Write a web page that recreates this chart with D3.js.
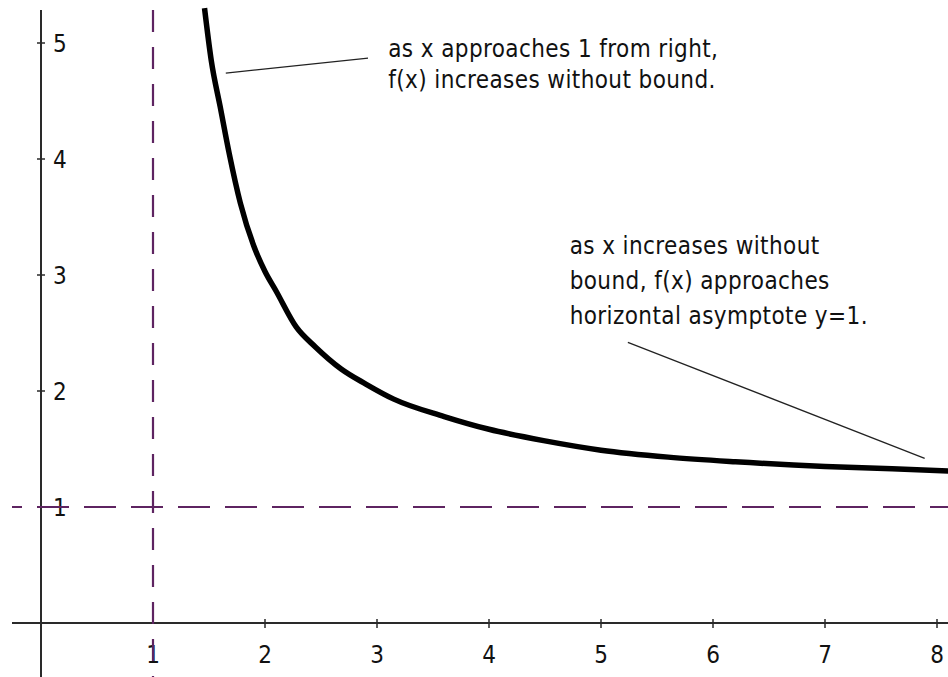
<!DOCTYPE html>
<html>
<head>
<meta charset="utf-8">
<script src="https://cdn.jsdelivr.net/npm/d3@7"></script>
<style>
  html, body { margin: 0; padding: 0; background: #fff; }
  svg { display: block; }
  text { font-family: "DejaVu Sans Condensed", "DejaVu Sans", sans-serif; fill: #111; }
</style>
</head>
<body>
<svg id="plot" width="948" height="677"></svg>
<script>
// points (x, f(x))
const curveX = [1.46, 1.52, 1.60, 1.68, 1.78, 1.90, 2.00, 2.10, 2.28, 2.45, 2.68, 2.90, 3.15, 3.60, 4.00, 4.50, 5.00, 5.60, 6.20, 7.00, 7.60, 8.10];
const curveY = [5.30, 4.85, 4.45, 4.05, 3.62, 3.25, 3.03, 2.86, 2.55, 2.38, 2.19, 2.06, 1.93, 1.78, 1.67, 1.57, 1.49, 1.43, 1.39, 1.35, 1.33, 1.31];

const xTicks = [2, 3, 4, 5, 6, 7, 8];
const yTicks = [2, 3, 4, 5];
const asymX = 1, asymY = 1;

const notes = [
  { lines: ["as x approaches 1 from right,", "f(x) increases without bound."], at: [3.10, 4.88], dy: 31, from: [1.65, 4.74], to: [2.92, 4.87] },
  { lines: ["as x increases without", "bound, f(x) approaches", "horizontal asymptote y=1."], at: [4.72, 3.18], dy: 35, from: [5.24, 2.42], to: [7.89, 1.42] }
];

const svg = d3.select("#plot");
const width = +svg.attr("width");
const height = +svg.attr("height");

const x = d3.scaleLinear().domain([0, 8]).range([41, 937]);
const y = d3.scaleLinear().domain([0, 5]).range([623, 43]);

svg.append("rect").attr("width", width).attr("height", height).attr("fill", "#fff");

const axisCol = "#2a2a2a";
const dashCol = "#5e2461";

// axes
svg.append("line").attr("x1", 12).attr("x2", width).attr("y1", y(0)).attr("y2", y(0))
  .attr("stroke", axisCol).attr("stroke-width", 2);
svg.append("line").attr("x1", x(0)).attr("x2", x(0)).attr("y1", 10).attr("y2", height)
  .attr("stroke", axisCol).attr("stroke-width", 2);

// x ticks + labels
const gx = svg.append("g");
gx.selectAll("line").data(xTicks).join("line")
  .attr("x1", d => x(d)).attr("x2", d => x(d))
  .attr("y1", y(0) - 4).attr("y2", y(0) + 5)
  .attr("stroke", axisCol).attr("stroke-width", 1.5);
gx.selectAll("text").data([asymX, ...xTicks]).join("text")
  .attr("x", d => x(d)).attr("y", 663)
  .attr("text-anchor", "middle").attr("font-size", 24)
  .text(d => d);

// y ticks + labels
const gy = svg.append("g");
gy.selectAll("line").data(yTicks).join("line")
  .attr("x1", x(0) - 4).attr("x2", x(0) + 4)
  .attr("y1", d => y(d)).attr("y2", d => y(d))
  .attr("stroke", axisCol).attr("stroke-width", 1.5);
gy.selectAll("text").data([asymY, ...yTicks]).join("text")
  .attr("x", 53).attr("y", d => y(d) + 9)
  .attr("font-size", 24)
  .text(d => d);

// asymptotes
svg.append("line").attr("x1", 12).attr("x2", width).attr("y1", y(asymY)).attr("y2", y(asymY))
  .attr("stroke", dashCol).attr("stroke-width", 2.2)
  .attr("stroke-dasharray", "32,15").attr("stroke-dashoffset", 22);
svg.append("line").attr("x1", x(asymX)).attr("x2", x(asymX)).attr("y1", 10).attr("y2", height)
  .attr("stroke", dashCol).attr("stroke-width", 2.2)
  .attr("stroke-dasharray", "22,15");

// curve
const pts = curveX.map((v, i) => [v, curveY[i]]);
svg.append("path").datum(pts)
  .attr("d", d3.line().x(d => x(d[0])).y(d => y(d[1])).curve(d3.curveMonotoneX))
  .attr("fill", "none").attr("stroke", "#000").attr("stroke-width", 5.5)
  .attr("stroke-linejoin", "round");

// annotations
notes.forEach(n => {
  svg.append("line")
    .attr("x1", x(n.from[0])).attr("y1", y(n.from[1]))
    .attr("x2", x(n.to[0])).attr("y2", y(n.to[1]))
    .attr("stroke", "#222").attr("stroke-width", 1.3);
  const t = svg.append("text").attr("font-size", 24).attr("letter-spacing", 0.4);
  n.lines.forEach((s, i) => {
    t.append("tspan").attr("x", x(n.at[0])).attr("y", y(n.at[1]) + i * n.dy).text(s);
  });
});
</script>
</body>
</html>
